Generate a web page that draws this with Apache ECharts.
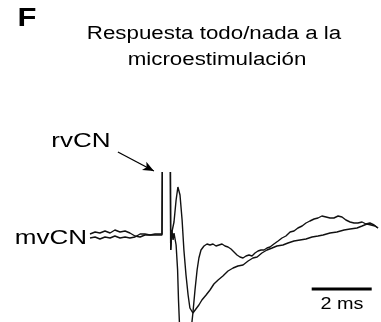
<!DOCTYPE html>
<html>
<head>
<meta charset="utf-8">
<script src="https://cdn.jsdelivr.net/npm/echarts@6/dist/echarts.min.js"></script>
<style>
  html, body { margin: 0; padding: 0; background: #fff; }
  #chart { width: 381px; height: 322px; }
</style>
</head>
<body>
<div id="chart"></div>
<script>
// Time in ms, potential in arbitrary units (baseline = 0).
// Trace with the fast, large negative deflection.
const traceFastT = [0, 0.17, 0.33, 0.5, 0.67, 0.83, 1.0, 1.17, 1.33, 1.5, 1.67, 1.83, 2.0, 2.17, 2.33, 2.40, 2.41,
  null,
  2.68, 2.69, 2.73, 2.77, 2.80, 2.87, 2.92, 2.95, 2.98, 3.03, 3.10, 3.17, 3.23, 3.30, 3.37, 3.43, 3.50, 3.57, 3.63, 3.70,
  3.80, 3.90, 4.00, 4.10, 4.20, 4.30, 4.40, 4.50, 4.60, 4.70, 4.80, 4.90, 5.00, 5.10, 5.20, 5.30, 5.40, 5.50, 5.60, 5.70,
  5.80, 5.90, 6.00, 6.13, 6.27, 6.40, 6.53, 6.67, 6.80, 6.93, 7.07, 7.20, 7.33, 7.47, 7.60, 7.73, 7.87, 8.00, 8.13, 8.27,
  8.40, 8.53, 8.67, 8.80, 8.93, 9.07, 9.20, 9.33, 9.47, 9.60];
const traceFastV = [0.2, 0.4, 0.3, 0.5, 0.3, 0.6, 0.4, 0.5, 0.3, 0.0, -0.1, 0.1, 0.1, 0.2, 0.2, 0.2, 6.4,
  null,
  6.4, -1.4, 0.6, -0.4, 0.3, -0.9, -3.4, -6.4, -8.6, -10.9, -12.4, -12.9, -12.6, -10.9, -9.4, -7.7, -5.4, -3.4, -2.2, -1.4,
  -1.0, -0.8, -0.9, -0.8, -1.0, -0.9, -0.8, -1.0, -1.1, -1.3, -1.6, -1.9, -2.1, -2.2, -2.0, -1.9, -2.0, -1.7, -1.5, -1.4,
  -1.4, -1.2, -1.1, -0.8, -0.5, -0.2, 0.0, 0.4, 0.5, 0.8, 1.0, 1.3, 1.5, 1.7, 1.8, 2.0, 1.9, 1.8, 1.8, 2.0,
  1.9, 1.6, 1.4, 1.3, 1.3, 1.4, 1.2, 1.3, 1.1, 0.8];

// Trace with the smaller, slower response.
const traceSlowT = [0, 0.17, 0.33, 0.5, 0.67, 0.83, 1.0, 1.17, 1.33, 1.5, 1.67, 1.83, 2.0, 2.17, 2.33, 2.40, 2.41,
  null,
  2.68, 2.69, 2.73, 2.80, 2.87, 2.93, 3.00, 3.07, 3.13, 3.20, 3.27, 3.33, 3.43, 3.53, 3.63, 3.73, 3.87, 4.00, 4.13, 4.27,
  4.43, 4.60, 4.77, 4.93, 5.10, 5.27, 5.43, 5.57, 5.73, 5.90, 6.07, 6.23, 6.43, 6.60, 6.80, 7.00, 7.20, 7.40, 7.60, 7.77,
  8.00, 8.23, 8.47, 8.67, 8.90, 9.07, 9.23, 9.37, 9.50, 9.60];
const traceSlowV = [-0.2, -0.1, -0.3, -0.1, -0.2, 0.0, -0.2, -0.1, -0.2, -0.1, 0.2, 0.2, 0.1, 0.1, 0.1, 0.1, 6.4,
  null,
  6.4, -1.4, 0.4, 1.4, 3.6, 4.9, 4.1, 1.6, -1.4, -3.9, -5.9, -7.2, -7.7, -7.3, -6.9, -6.4, -5.9, -5.4, -4.8, -4.4,
  -4.0, -3.5, -3.2, -3.0, -2.9, -2.5, -2.2, -2.1, -1.7, -1.4, -1.2, -1.0, -0.9, -0.7, -0.5, -0.4, -0.3, -0.1, 0.0, 0.1,
  0.3, 0.4, 0.6, 0.7, 0.8, 1.0, 1.2, 1.1, 1.0, 0.8];

// Scale bar: 2 ms
const scaleBarT = [7.39, 9.39];
const scaleBarV = [-5.3, -5.3];
const scaleBarLabel = '2 ms';

const panelLetter = 'F';
const titleLines = ['Respuesta todo/nada a la', 'microestimulación'];
const stimLabel = 'rvCN';
const recLabel = 'mvCN';
const arrowFrom = [0.93, 8.4];
const arrowTo = [2.13, 6.5];

const pairs = (ts, vs) => ts.map((t, i) => (t === null ? [null, null] : [t, vs[i]]));

const chart = echarts.init(document.getElementById('chart'), null, { renderer: 'canvas' });

const font = 'Liberation Sans, Arial, Helvetica, sans-serif';
const stretch = 1.24;
const txt = (text, x, y, size, weight, align) => ({
  type: 'text',
  x: x, y: y,
  scaleX: stretch,
  style: {
    text: text,
    fontFamily: font,
    fontSize: size,
    fontWeight: weight || 'normal',
    fill: '#000',
    textAlign: align || 'center',
    textVerticalAlign: 'middle'
  }
});

chart.setOption({
  animation: false,
  backgroundColor: '#fff',
  grid: { left: 0, right: 0, top: 0, bottom: 0 },
  xAxis: { type: 'value', min: -3, max: 9.7, show: false },
  yAxis: { type: 'value', min: -8.6, max: 23.6, show: false },
  series: [
    {
      type: 'line', name: 'slow', data: pairs(traceSlowT, traceSlowV),
      showSymbol: false, connectNulls: false,
      lineStyle: { color: '#111', width: 1.4 }
    },
    {
      type: 'line', name: 'fast', data: pairs(traceFastT, traceFastV),
      showSymbol: false, connectNulls: false,
      lineStyle: { color: '#111', width: 1.4 },
      markLine: {
        silent: true,
        symbol: ['none', 'arrow'],
        symbolSize: [7, 11],
        label: { show: false },
        lineStyle: { color: '#000', width: 1.3, type: 'solid' },
        data: [[{ coord: arrowFrom }, { coord: arrowTo }]]
      }
    },
    {
      type: 'line', name: 'scale', data: pairs(scaleBarT, scaleBarV),
      showSymbol: false,
      lineStyle: { color: '#000', width: 3 }
    }
  ],
  graphic: [
    txt(panelLetter, 27, 19, 25, 'bold'),
    txt(titleLines[0], 214, 34, 18),
    txt(titleLines[1], 217, 60, 18),
    txt(stimLabel, 81, 141, 21),
    txt(recLabel, 51, 238, 21),
    txt(scaleBarLabel, 342, 305, 16)
  ]
});
</script>
</body>
</html>
